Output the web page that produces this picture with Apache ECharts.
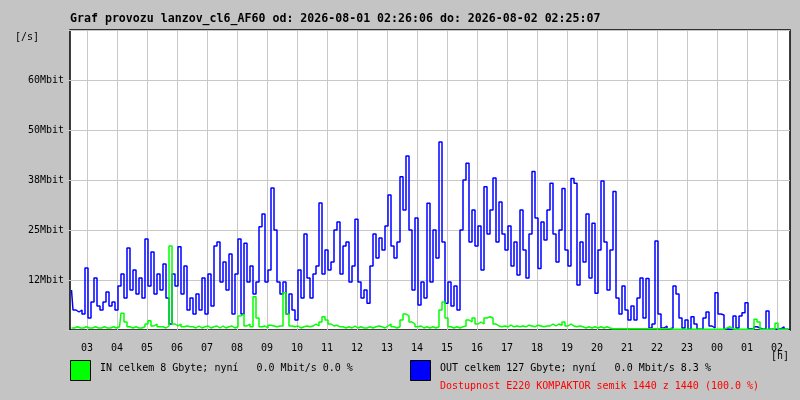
<!DOCTYPE html>
<html>
<head>
  <meta charset="utf-8">
  <title>Graf provozu lanzov_cl6_AF60</title>
  <script src="https://cdn.jsdelivr.net/npm/echarts@6/dist/echarts.min.js"></script>
</head>

<body style="margin:0;background:#c4c4c4;">
<div style="width:800px;height:400px;" id="main"></div>

<script type="text/javascript">
// cas v minutach od pulnoci prvniho dne, vzorky po 6 minutach
var startMin = 146;
var stepMin = 6;

var hourLabels = ['03','04','05','06','07','08','09','10','11','12','13','14',
                  '15','16','17','18','19','20','21','22','23','00','01','02'];
var yLabels = ['', '12Mbit', '25Mbit', '38Mbit', '50Mbit', '60Mbit', ''];

// OUT [Mbit/s]
var outMbit = [
  10,5,4.5,5,4,15.5,3,7,13,6,
  5,7,9.5,6,7,5,11,14,8,20.5,
  10,15,9,13,8,22.75,11,19.5,9,14,
  10,16.5,8,1.5,14,11,20.8,9,16,5,
  8,4,9,5,13,4,14,6,21,22,
  12,17,10,19,4,14,22.75,4,21.7,12,
  16,9,12,25.8,29,12,15,35.5,25,12,
  9,12,4,9,5,2.5,15,8,24,13,
  8,14,16,31.75,14,20,15,17,25,27,
  14,21,22,12,16,27.7,12,8,10,6.7,
  16,24,18,23,20,26,33.75,21,18,22,
  38.3,30,43.5,25,10,28,6.25,12,8,31.7,
  12,25,18,47,22,6.7,12,6,11,5,
  25,37.5,41.7,22,30,21,26,15,35.8,24,
  30,38,22,32,24,20,26,16,22,13.75,
  30,20,13,24,39.6,28,15.4,27,22.5,30,
  36.7,24,17,25,35.4,20,16,37.9,36.7,11.25,
  22,17,29,13,26.7,9.2,20,37.25,22,10,
  20,34.6,8,4,11,5,2.5,6,2.5,8,
  13,3,12.9,0.5,1.5,22.25,4,0.5,1,0.3,
  0.5,11,9,3,0.5,2.5,0.2,3.3,1.5,0.2,
  0.2,3,4.5,1,0.5,9.3,4,3.75,0.3,0.2,
  0.2,3.5,0.5,3.5,4.3,6.8,0.3,0.2,0.8,0.5,
  0.2,0.3,4.75,0.2,0.2,0.2,0.3,0.8,0.2,0.2
];

// IN [Mbit/s]
var inMbit = [
  0.5,0.5,0.8,0.5,0.5,0.8,0.5,0.5,0.8,0.5,
  0.5,0.8,0.5,0.5,0.8,0.5,0.8,4.2,2,0.8,
  0.5,0.8,0.5,0.5,0.8,1.5,2.3,1,1.5,0.8,
  0.8,0.5,1,21,1.5,1,1.5,0.8,1,0.8,
  0.8,0.5,1,0.5,0.8,1,0.5,0.8,1,0.5,
  1,0.5,0.8,1,0.5,0.8,3.5,4,1,1.5,
  0.8,8.3,3,0.8,1,0.5,1.2,1,0.8,1,
  1,9.3,4,1,0.8,1,0.5,0.8,1,0.8,
  1,1.5,1,2,3.3,2.5,1.5,1,1.2,0.8,
  0.8,0.5,0.8,0.5,1,0.5,0.8,0.5,0.5,0.8,
  0.5,0.8,1,0.8,0.5,1,1.5,0.8,0.5,0.8,
  2.5,4,3.5,2,1.5,0.8,1,0.5,0.8,0.5,
  0.8,0.5,0.8,5,7,3,0.8,0.5,0.8,0.5,
  0.8,1,2.5,2,3,1.5,2,1.5,3,3.3,
  3,1.5,1,0.8,1,0.8,1.2,0.8,1,0.8,
  1,0.8,1.2,1,0.8,1.2,1,0.8,1,1,
  1.5,1,1.5,1.2,2,1,1.5,1,0.8,1,
  0.8,0.5,0.8,0.5,0.8,0.5,0.8,0.5,0.8,0.5,
  0.3,0.3,0.3,0.3,0.3,0.3,0.3,0.3,0.3,0.3,
  0.3,0.3,0.3,0.3,0.3,0.3,0.3,0.3,0.3,0.3,
  0.2,0.2,0.2,0.2,0.2,0.2,0.2,0.2,0.2,0.2,
  0.2,0.2,0.2,0.2,0.2,0.2,0.2,0.2,0.5,0.8,
  0.3,0.2,0.2,0.2,0.2,0.2,0.2,0.2,2.7,2,
  0.2,0.2,0.2,0.2,0.2,1.7,0.2,0.2,0.2,0.2
];

var titleText = 'Graf provozu lanzov_cl6_AF60 od: 2026-08-01 02:26:06 do: 2026-08-02 02:25:07';
var inText = 'IN celkem 8 Gbyte; nyní   0.0 Mbit/s 0.0 %';
var outText = 'OUT celkem 127 Gbyte; nyní   0.0 Mbit/s 8.3 %';
var availText = 'Dostupnost E220 KOMPAKTOR semik 1440 z 1440 (100.0 %)';

var mono = 'DejaVu Sans Mono';

var toPairs = function(arr){
	return arr.map(function(v, i){
		return [startMin + stepMin * i + stepMin / 2, v];
	});
};
var hourValues = hourLabels.map(function(h, i){ return 180 + 60 * i; });

var myChart = echarts.init(document.getElementById('main'));

var option = {
    backgroundColor: '#c4c4c4',
    animation: false,
    title: {
        text: titleText,
        left: 70,
        top: 13,
        padding: 0,
        textStyle: { fontFamily: mono, fontWeight: 'bold', fontSize: 11.6, color: '#000' }
    },
    grid: {
        left: 70, right: 10, top: 30, bottom: 70,
        show: true,
        backgroundColor: '#fff',
        borderColor: '#000',
        borderWidth: 1.5
    },
    xAxis: {
        type: 'value',
        min: startMin,
        max: startMin + 1440,
        axisLine: { show: false },
        axisTick: { show: false, customValues: hourValues },
        axisLabel: {
            customValues: hourValues,
            margin: 13,
            fontFamily: mono, fontSize: 10, color: '#000',
            formatter: function(v){ return hourLabels[Math.round((v - 180) / 60)]; }
        },
        splitLine: { show: true, lineStyle: { color: '#c8c8c8', width: 1 } }
    },
    yAxis: {
        type: 'value',
        min: 0,
        max: 75,
        interval: 12.5,
        axisLine: { show: false },
        axisTick: { show: true, length: 5, lineStyle: { color: '#cdcdcd' } },
        axisLabel: {
            margin: 6,
            fontFamily: mono, fontSize: 10, color: '#000',
            formatter: function(v){ return yLabels[Math.round(v / 12.5)]; }
        },
        splitLine: { show: true, lineStyle: { color: '#c8c8c8', width: 1 } }
    },
    graphic: [
        { type: 'text', left: 15, top: 32, style: { text: '[/s]', font: '10px ' + mono, fill: '#000' } },
        { type: 'text', left: 771, top: 351, style: { text: '[h]', font: '10px ' + mono, fill: '#000' } },
        { type: 'rect', shape: { x: 70.5, y: 360.5, width: 20, height: 20 },
          style: { fill: '#00ff00', stroke: '#000', lineWidth: 1 } },
        { type: 'text', left: 100, top: 363, style: { text: inText, font: '10px ' + mono, fill: '#000' } },
        { type: 'rect', shape: { x: 410.5, y: 360.5, width: 20, height: 20 },
          style: { fill: '#0000ff', stroke: '#000', lineWidth: 1 } },
        { type: 'text', left: 440, top: 363, style: { text: outText, font: '10px ' + mono, fill: '#000' } },
        { type: 'text', left: 440, top: 381, style: { text: availText, font: '10px ' + mono, fill: '#ff0000' } }
    ],
    series: [{
        name: 'OUT',
        type: 'line',
        step: 'middle',
        symbol: 'none',
        lineStyle: { color: '#0000ff', width: 1.5 },
        data: toPairs(outMbit)
    }, {
        name: 'IN',
        type: 'line',
        step: 'middle',
        symbol: 'none',
        lineStyle: { color: '#00ff00', width: 1.5 },
        data: toPairs(inMbit)
    }]
};

myChart.setOption(option);
</script>
</body>
</html>
